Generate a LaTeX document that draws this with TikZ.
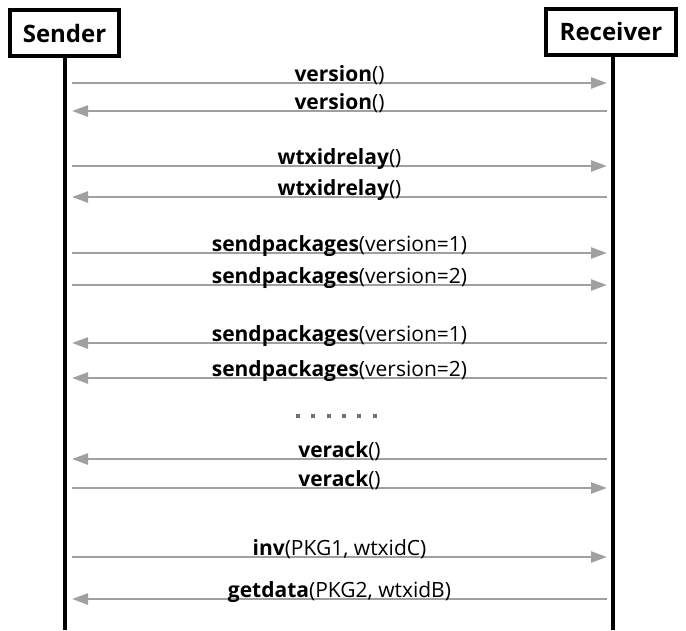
\documentclass[tikz,border=0pt]{standalone}
\usepackage{fontspec}
\setmainfont{Open Sans}
\usetikzlibrary{arrows.meta}
\definecolor{msggray}{HTML}{A0A0A0}
\definecolor{dotgray}{HTML}{707070}
\tikzset{
  actor/.style={draw,line width=4pt,minimum height=46pt,inner sep=0pt,
    font=\fontsize{24}{29}\selectfont\bfseries},
  life/.style={line width=4pt},
  msg/.style={draw=msggray,line width=2.5pt,-{Triangle[length=16pt,width=11pt]}},
  lbl/.style={anchor=base,yshift=2pt,text=black,font=\fontsize{21}{25}\selectfont},
  pause/.style={draw=dotgray,line width=4pt,dash pattern=on 4pt off 11.3pt},
}
\begin{document}
\begin{tikzpicture}[x=1pt,y=-1pt]
  \useasboundingbox (0,0) rectangle (686,630);
  \node[actor,minimum width=109pt] (sender) at (64.5,33) {Sender};
  \node[actor,minimum width=130pt] (receiver) at (611,31.5) {Receiver};
  \coordinate (bottom) at (0,630);
  \draw[life] (sender.south) -- (sender.south |- bottom);
  \draw[life] ([xshift=1.5pt]receiver.south) -- ([xshift=1.5pt]receiver.south |- bottom);
  \path
    (72,83) coordinate (s1)   (607,83) coordinate (r1)
    (72,111) coordinate (s2)  (607,111) coordinate (r2)
    (72,166) coordinate (s3)  (607,166) coordinate (r3)
    (72,197) coordinate (s4)  (607,197) coordinate (r4)
    (72,253) coordinate (s5)  (607,253) coordinate (r5)
    (72,285) coordinate (s6)  (607,285) coordinate (r6)
    (72,343) coordinate (s7)  (607,343) coordinate (r7)
    (72,378) coordinate (s8)  (607,378) coordinate (r8)
    (72,459) coordinate (s9)  (607,459) coordinate (r9)
    (72,488) coordinate (s10) (607,488) coordinate (r10)
    (72,557) coordinate (s11) (607,557) coordinate (r11)
    (72,599) coordinate (s12) (607,599) coordinate (r12)
    (296,416) coordinate (d1) (377,416) coordinate (d2);
  \begin{scope}
    \draw[msg] (s1) to node[lbl] {\textbf{version}()} (r1);
    \draw[msg] (r2) to node[lbl] {\textbf{version}()} (s2);
    \draw[msg] (s3) to node[lbl] {\textbf{wtxidrelay}()} (r3);
    \draw[msg] (r4) to node[lbl] {\textbf{wtxidrelay}()} (s4);
    \draw[msg] (s5) to node[lbl] {\textbf{sendpackages}(version=1)} (r5);
    \draw[msg] (s6) to node[lbl] {\textbf{sendpackages}(version=2)} (r6);
    \draw[msg] (r7) to node[lbl] {\textbf{sendpackages}(version=1)} (s7);
    \draw[msg] (r8) to node[lbl] {\textbf{sendpackages}(version=2)} (s8);
    \draw[pause] (d1) -- (d2);
    \draw[msg] (r9) to node[lbl] {\textbf{verack}()} (s9);
    \draw[msg] (s10) to node[lbl] {\textbf{verack}()} (r10);
    \draw[msg] (s11) to node[lbl] {\textbf{inv}(PKG1, wtxidC)} (r11);
    \draw[msg] (r12) to node[lbl] {\textbf{getdata}(PKG2, wtxidB)} (s12);
  \end{scope}
\end{tikzpicture}
\end{document}
